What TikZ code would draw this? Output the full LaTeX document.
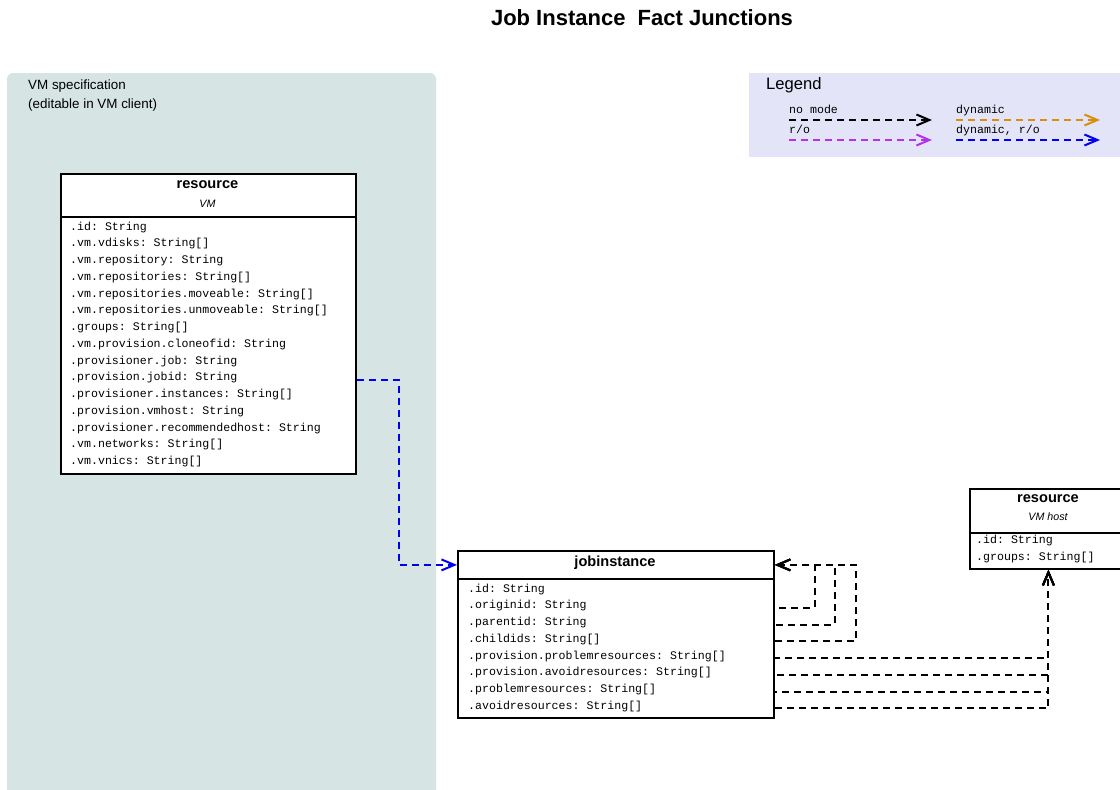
\documentclass[tikz,border=0pt]{standalone}
\usepackage{fontspec}
\setmainfont{Liberation Sans}
\setmonofont{Liberation Mono}
\usetikzlibrary{arrows.meta}
\definecolor{panelgreen}{RGB}{214,228,228}
\definecolor{legendbg}{RGB}{228,228,248}
\definecolor{cdyn}{RGB}{216,144,10}
\definecolor{cro}{RGB}{178,50,230}
\definecolor{cdynro}{RGB}{0,0,245}
\tikzset{
  hdrbox/.style={draw=black, line width=1.8pt, fill=white, inner sep=0pt, anchor=north west},
  bodybox/.style={draw=black, line width=1.8pt, fill=white, inner sep=0pt, anchor=north west},
  rowtxt/.style={font=\fontsize{11.6}{13}\selectfont\ttfamily, anchor=west, inner sep=0pt, text height=7pt, text depth=2pt},
  clsname/.style={font=\fontsize{14.6}{17}\selectfont\bfseries, inner sep=0pt},
  clssub/.style={font=\fontsize{10.7}{12}\selectfont\itshape, inner sep=0pt},
  conn/.style={line width=2pt, dash pattern=on 7pt off 5pt, -{Straight Barb[length=13pt,width=11pt]}},
  grouptxt/.style={font=\fontsize{13.4}{15}\selectfont, anchor=west, inner sep=0pt},
}
\begin{document}
\begin{tikzpicture}[x=1pt,y=-1pt]
\useasboundingbox (0,0) rectangle (1120,790);
\clip (0,0) rectangle (1120,790);
\fill[white] (0,0) rectangle (1120,790);

% title
\node[font=\fontsize{22}{25}\selectfont\bfseries, inner sep=0pt] (title) at (642,18) {Job Instance\ \ Fact Junctions};

% VM specification panel
\fill[panelgreen, rounded corners=6pt] (7,73) rectangle (436,810);
\node[grouptxt] (g1) at (28,86) {VM specification};
\node[grouptxt] (g2) at (28,105) {(editable in VM client)};

% legend
\fill[legendbg] (749,73) rectangle (1125,157);
\node[font=\fontsize{16.6}{19}\selectfont, anchor=west, inner sep=0pt] (legt) at (766,85) {Legend};
\node[rowtxt] (l1) at (789,111) {no mode};
\node[rowtxt] (l2) at (956,111) {dynamic};
\node[rowtxt] (l3) at (789,131) {r/o};
\node[rowtxt] (l4) at (956,131) {dynamic, r/o};
\coordinate (l1a) at (789,120); \coordinate (l1b) at (932,120);
\coordinate (l2a) at (956,120); \coordinate (l2b) at (1100,120);
\coordinate (l3a) at (789,140); \coordinate (l3b) at (932,140);
\coordinate (l4a) at (956,140); \coordinate (l4b) at (1100,140);
\draw[conn, black] (l1a) -- (l1b);
\draw[conn, cdyn] (l2a) -- (l2b);
\draw[conn, cro] (l3a) -- (l3b);
\draw[conn, cdynro] (l4a) -- (l4b);

% resource VM
\node[hdrbox, minimum width=295pt, minimum height=43pt] (vmh) at (60,173) {};
\node[bodybox, minimum width=295pt, minimum height=257pt] (vmb) at (60,216) {};
\node[clsname] (vmn) at (207.5,185) {resource};
\node[clssub] (vms) at (207.5,204) {VM};
\foreach [count=\i from 0] \t in {.id: String,.vm.vdisks: String[],.vm.repository: String,.vm.repositories: String[],.vm.repositories.moveable: String[],.vm.repositories.unmoveable: String[],.groups: String[],.vm.provision.cloneofid: String,.provisioner.job: String,.provision.jobid: String,.provisioner.instances: String[],.provision.vmhost: String,.provisioner.recommendedhost: String,.vm.networks: String[],.vm.vnics: String[]}
  \node[rowtxt] (vr\i) at (70,227.5+16.75*\i) {\t};

% jobinstance
\node[hdrbox, minimum width=316pt, minimum height=28pt] (jobh) at (457,550) {};
\node[bodybox, minimum width=316pt, minimum height=139pt] (jobb) at (457,578) {};
\node[clsname] (jobn) at (615,563) {jobinstance};
\foreach [count=\i from 0] \t in {.id: String,.originid: String,.parentid: String,.childids: String[],.provision.problemresources: String[],.provision.avoidresources: String[],.problemresources: String[],.avoidresources: String[]}
  \node[rowtxt] (jr\i) at (468,589.5+16.75*\i) {\t};

% resource VM host
\node[hdrbox, minimum width=157pt, minimum height=44pt] (hosth) at (969,488) {};
\node[bodybox, minimum width=157pt, minimum height=36pt] (hostb) at (969,532) {};
\node[clsname] (hostn) at (1048,499) {resource};
\node[clssub] (hosts) at (1048,517) {VM host};
\node[rowtxt] (hr0) at (976,541) {.id: String};
\node[rowtxt] (hr1) at (976,557.5) {.groups: String[]};

% connectors
\draw[conn, cdynro] ([yshift=-1.5pt]vr9.west -| vmb.east) -- ++(42,0) |- (jobh.west);
\draw[conn, black, dash phase=115.5pt] ([yshift=-1.5pt]jr1.west -| jobb.east) -- ++(40,0) |- (jobh.east);
\draw[conn, black, dash phase=58.75pt] ([yshift=-1.5pt]jr2.west -| jobb.east) -- ++(60,0) |- (jobh.east);
\draw[conn, black, dash phase=0pt] ([yshift=-1.5pt]jr3.west -| jobb.east) -- ++(81,0) |- (jobh.east);
\draw[conn, black, dash phase=50.25pt] ([yshift=-1.5pt]jr4.west -| jobb.east) -| (hostb.south);
\draw[conn, black, dash phase=33.5pt] ([yshift=-1.5pt]jr5.west -| jobb.east) -| (hostb.south);
\draw[conn, black, dash phase=16.75pt] ([yshift=-1.5pt]jr6.west -| jobb.east) -| (hostb.south);
\draw[conn, black, dash phase=0pt] ([yshift=-1.5pt]jr7.west -| jobb.east) -| (hostb.south);
\end{tikzpicture}
\end{document}
